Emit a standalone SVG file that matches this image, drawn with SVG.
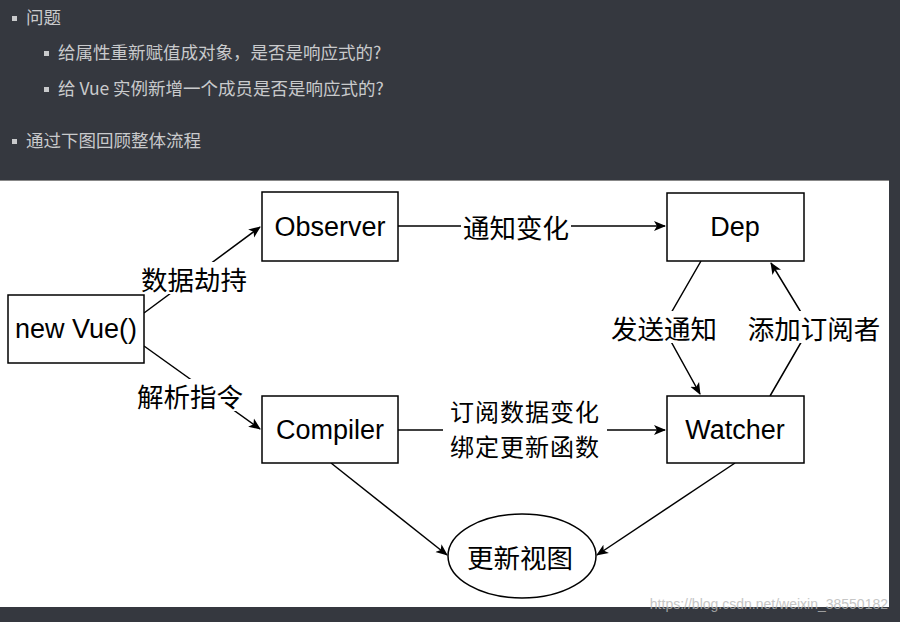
<svg xmlns="http://www.w3.org/2000/svg" width="900" height="622" viewBox="0 0 900 622">
<defs>
<marker id="ah" viewBox="0 0 12 12" refX="11" refY="6" markerWidth="12" markerHeight="12" markerUnits="userSpaceOnUse" orient="auto">
<path d="M0,1 L12,6 L0,11 L3,6 Z" fill="#000"/>
</marker>
</defs>
<style>
.top{font-family:"Noto Sans CJK SC","Liberation Sans",sans-serif;font-size:17.5px;fill:#c9cacc}
.box{fill:#fff;stroke:#000;stroke-width:1.5}
.nt{font-family:"Liberation Sans","Noto Sans CJK SC",sans-serif;font-size:27px;fill:#000;text-anchor:middle;dominant-baseline:central}
.lb{font-family:"Noto Sans CJK SC",sans-serif;font-size:26.5px;fill:#000;text-anchor:middle;dominant-baseline:central}
.ml{font-family:"Noto Sans CJK SC",sans-serif;font-size:24px;fill:#000;text-anchor:middle;letter-spacing:1px}
.ed{fill:none;stroke:#000;stroke-width:1.5}
</style>
<rect width="900" height="622" fill="#35383f"/>
<rect x="0" y="180" width="889" height="427" fill="#fff"/>
<rect x="0" y="180" width="889" height="1" fill="#888"/>
<g id="header">
<rect x="12" y="16" width="5" height="5" fill="#c9cacc"/>
<text class="top" x="26" y="24">问题</text>
<rect x="44" y="51" width="5" height="5" fill="#c9cacc"/>
<text class="top" x="58" y="59">给属性重新赋值成对象，是否是响应式的?</text>
<rect x="44" y="87" width="5" height="5" fill="#c9cacc"/>
<text class="top" x="58" y="95">给 Vue 实例新增一个成员是否是响应式的?</text>
<rect x="12" y="139" width="5" height="5" fill="#c9cacc"/>
<text class="top" x="26" y="147">通过下图回顾整体流程</text>
</g>
<g id="connectors">
<path class="ed" d="M144,313 L260,227" marker-end="url(#ah)"/>
<path class="ed" d="M144,346 L260,429" marker-end="url(#ah)"/>
<path class="ed" d="M398,226 L665,226" marker-end="url(#ah)"/>
<path class="ed" d="M701,261 L663,327 L700,394" marker-end="url(#ah)"/>
<path class="ed" d="M770,396 L810,327 L771,263" marker-end="url(#ah)"/>
<path class="ed" d="M398,430 L665,430" marker-end="url(#ah)"/>
<path class="ed" d="M331,463 L447,555" marker-end="url(#ah)"/>
<path class="ed" d="M735,463 L597,555" marker-end="url(#ah)"/>
<rect x="139" y="262" width="110" height="32" fill="#fff"/>
<text class="lb" x="194" y="278">数据劫持</text>
<rect x="135" y="379" width="110" height="32" fill="#fff"/>
<text class="lb" x="190" y="395">解析指令</text>
<rect x="461" y="210" width="110" height="32" fill="#fff"/>
<text class="lb" x="516" y="226">通知变化</text>
<rect x="609" y="311" width="110" height="32" fill="#fff"/>
<text class="lb" x="664" y="327">发送通知</text>
<rect x="746" y="311" width="136" height="32" fill="#fff"/>
<text class="lb" x="814" y="327">添加订阅者</text>
<rect x="443" y="400" width="164" height="64" fill="#fff"/>
<text class="ml"><tspan x="525" y="421">订阅数据变化</tspan><tspan x="525" y="456">绑定更新函数</tspan></text>
</g>
<g id="newvue"><rect class="box" x="8" y="295" width="136" height="68"/><text class="nt" x="76" y="329">new Vue()</text></g>
<g id="observer"><rect class="box" x="262" y="192" width="136" height="69"/><text class="nt" x="330" y="227">Observer</text></g>
<g id="dep"><rect class="box" x="667" y="193" width="137" height="68"/><text class="nt" x="735" y="227">Dep</text></g>
<g id="compiler"><rect class="box" x="262" y="396" width="136" height="67"/><text class="nt" x="330" y="430">Compiler</text></g>
<g id="watcher"><rect class="box" x="667" y="396" width="137" height="67"/><text class="nt" x="735" y="430">Watcher</text></g>
<g id="update"><ellipse class="box" cx="522" cy="556" rx="74" ry="42"/><text class="lb" x="520" y="556">更新视图</text></g>
<text x="888" y="609" text-anchor="end" style="font-family:'Liberation Sans',sans-serif;font-size:14px;fill:#b8b8b8;opacity:0.8">https://blog.csdn.net/weixin_38550182</text>
</svg>
